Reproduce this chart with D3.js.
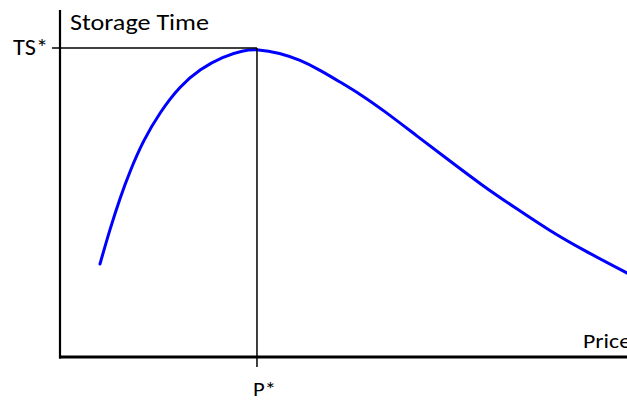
<!DOCTYPE html>
<html>
<head>
<meta charset="utf-8">
<script src="https://cdn.jsdelivr.net/npm/d3@7"></script>
<style>
html,body{margin:0;padding:0;background:#fff;overflow:hidden;}
svg{display:block;}
text{font-family:Carlito, Calibri, Lato, "Open Sans", sans-serif;fill:#000;}
</style>
</head>
<body>
<svg id="chart" width="627" height="401"></svg>
<script>
// Curve data (Price, Storage Time) in relative units
const prices = [0.705,0.882,1.058,1.235,1.464,1.764,2.116,2.469,2.875,3.228,3.474,
                3.880,4.233,4.586,4.938,5.291,5.697,6.296,6.878,7.460,8.060,8.642,9.224,10.0,10.406];
const storageTimes = [3.010,4.142,5.146,6.019,6.990,7.929,8.770,9.320,9.725,9.919,9.968,
                9.838,9.612,9.288,8.900,8.511,7.994,7.152,6.343,5.534,4.790,4.078,3.463,2.718,2.330];
const peakPrice = [3.474];
const peakTime = [10.0];
const xTickLabels = ["P*"];
const yTickLabels = ["TS*"];
const axisTitles = ["Storage Time", "Price"];

const svg = d3.select("#chart");
const x = d3.scaleLinear().domain([0, 10]).range([60, 627]);
const y = d3.scaleLinear().domain([0, 10]).range([357, 48]);

const data = prices.map((p, i) => ({p, t: storageTimes[i]}));

svg.append("defs").append("clipPath").attr("id","clip")
  .append("rect").attr("x",0).attr("y",0).attr("width",627).attr("height",401);

// curve
const line = d3.line().x(d => x(d.p)).y(d => y(d.t)).curve(d3.curveBasis);
svg.append("path").datum(data)
  .attr("d", line)
  .attr("fill","none")
  .attr("stroke","#0000ff")
  .attr("stroke-width",3)
  .attr("stroke-linecap","round")
  .attr("clip-path","url(#clip)");

// guide lines
svg.append("line")
  .attr("x1", x(0) - 8).attr("x2", x(peakPrice[0]))
  .attr("y1", y(peakTime[0])).attr("y2", y(peakTime[0]))
  .attr("stroke","#000").attr("stroke-width",1.5);
svg.append("line")
  .attr("x1", x(peakPrice[0])).attr("x2", x(peakPrice[0]))
  .attr("y1", y(peakTime[0])).attr("y2", y(0) + 10)
  .attr("stroke","#000").attr("stroke-width",1.5);

// axes
svg.append("line")
  .attr("x1", x(0)).attr("x2", x(0))
  .attr("y1", 10).attr("y2", y(0) + 1.5)
  .attr("stroke","#000").attr("stroke-width",2.2);
svg.append("line")
  .attr("x1", x(0) - 1).attr("x2", 627)
  .attr("y1", y(0)).attr("y2", y(0))
  .attr("stroke","#000").attr("stroke-width",2.8);

// labels
svg.append("text").attr("x", 70).attr("y", 30)
  .attr("font-size", 22).attr("textLength", 139).attr("lengthAdjust","spacingAndGlyphs")
  .text(axisTitles[0]);
svg.append("text").attr("x", 583).attr("y", 348)
  .attr("font-size", 21).attr("textLength", 48).attr("lengthAdjust","spacingAndGlyphs")
  .text(axisTitles[1]);
svg.append("text").attr("x", 13).attr("y", 55)
  .attr("font-size", 22).attr("textLength", 35).attr("lengthAdjust","spacingAndGlyphs")
  .text(yTickLabels[0]);
svg.append("text").attr("x", 253).attr("y", 396)
  .attr("font-size", 20).attr("textLength", 23).attr("lengthAdjust","spacingAndGlyphs")
  .text(xTickLabels[0]);
</script>
</body>
</html>
